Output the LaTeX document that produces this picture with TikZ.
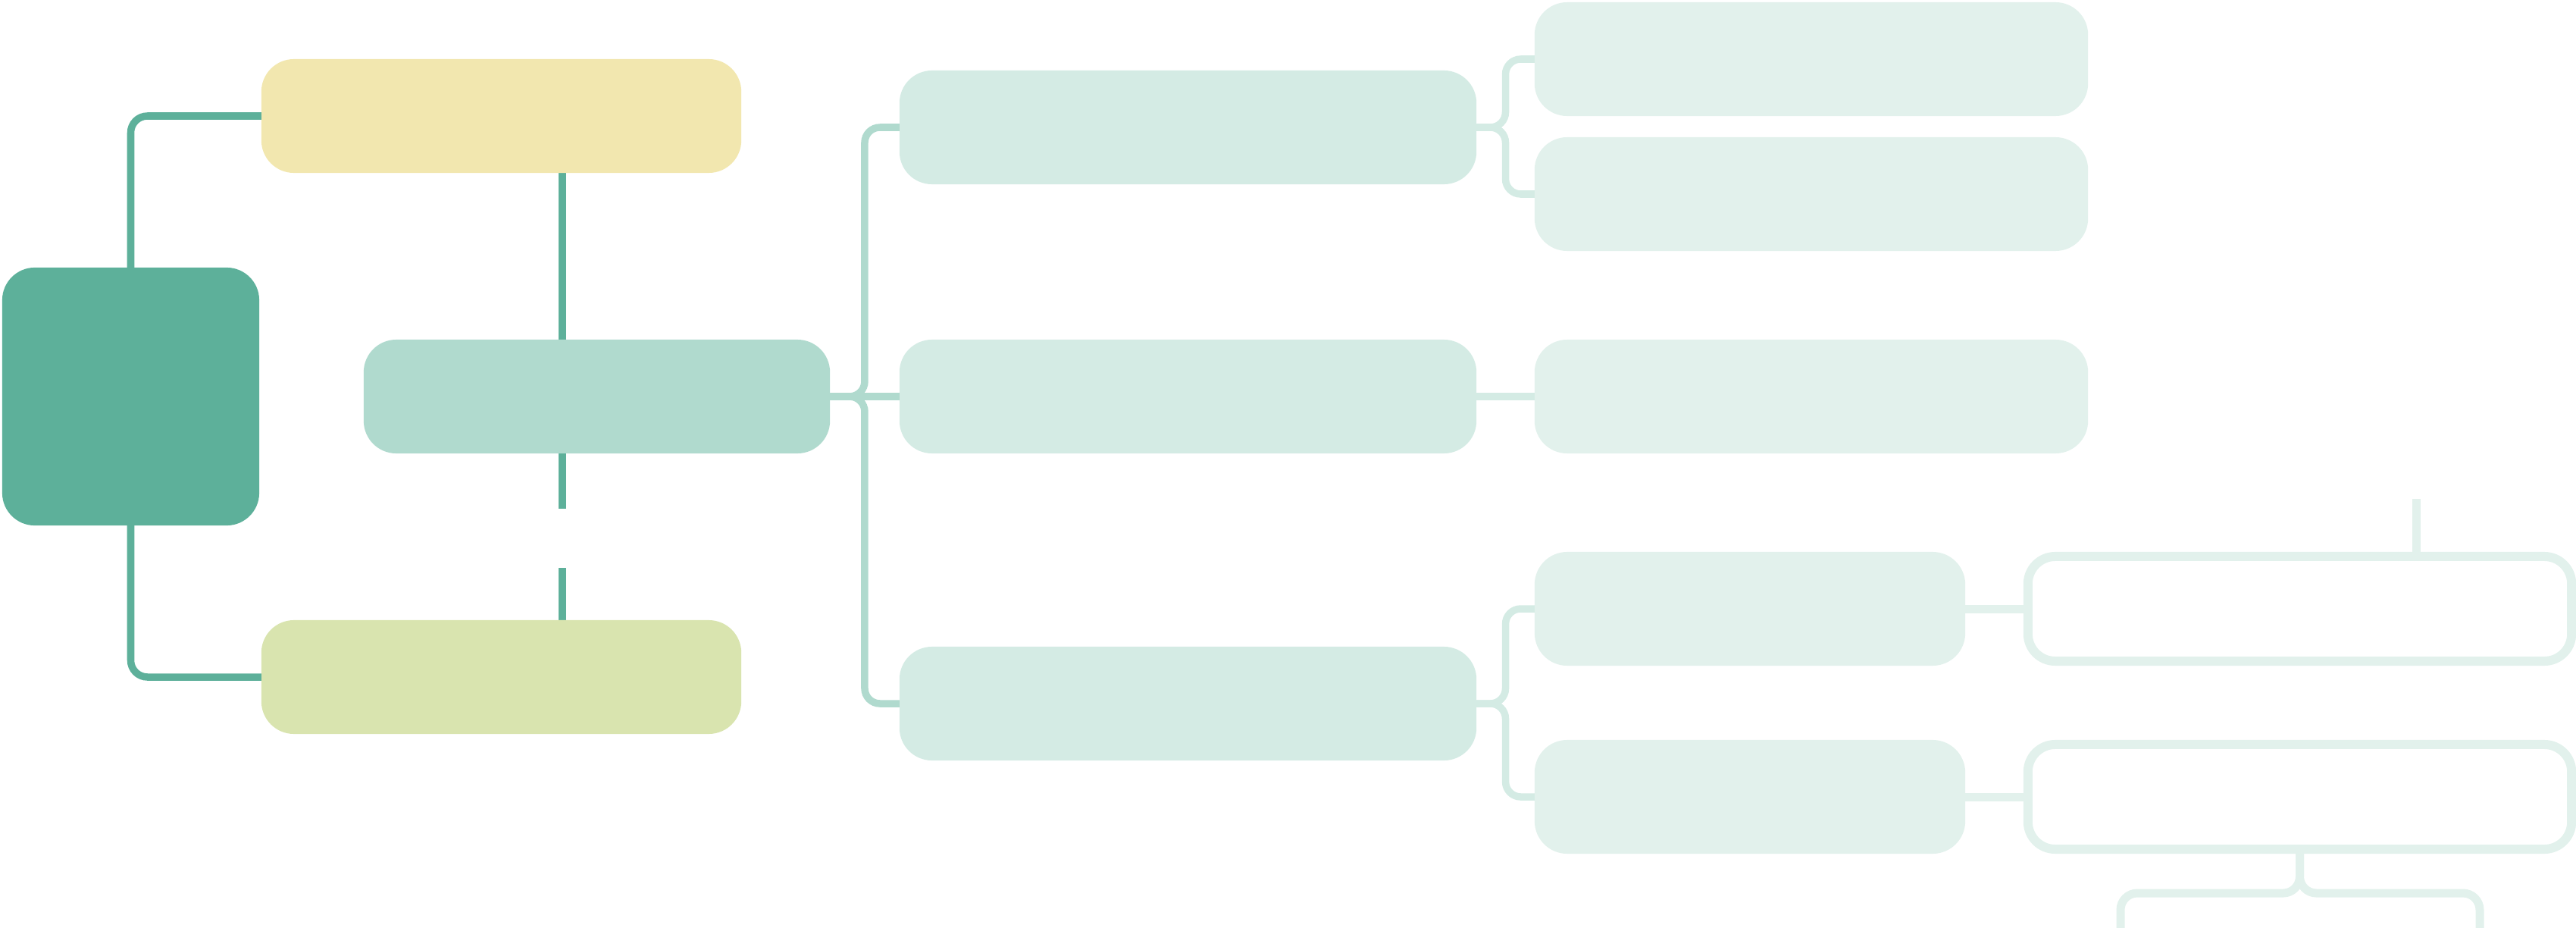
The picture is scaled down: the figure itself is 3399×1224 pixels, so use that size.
\documentclass[tikz,border=0pt]{standalone}
\usepackage{xcolor}
\definecolor{maproot}{HTML}{5DB09A}
\definecolor{mapsun}{HTML}{F2E7AF}
\definecolor{mapmint}{HTML}{B0DACE}
\definecolor{maplime}{HTML}{D9E4AF}
\definecolor{mapsea}{HTML}{D4EBE4}
\definecolor{mapfoam}{HTML}{E2F1EC}
\usetikzlibrary{calc,backgrounds}
\tikzset{
  mapbox/.style={rounded corners=0.43cm,inner sep=0pt,outer sep=0pt,minimum height=1.5cm},
  mapout/.style={draw=mapfoam,line width=0.12cm,rounded corners=0.36cm,inner sep=0pt,minimum width=7.17cm,minimum height=1.38cm},
  maplink/.style={line width=0.095cm,rounded corners=0.2cm},
  mapwire/.style={draw=mapfoam,line width=0.11cm,rounded corners=0.22cm},
}
\begin{document}
\begin{tikzpicture}[x=0.01cm,y=-0.01cm]
\useasboundingbox (0,0) rectangle (3399,1224);
\node[mapbox,fill=maproot,minimum width=3.39cm,minimum height=3.4cm] (root) at (172.5,523) {};
\node[mapbox,fill=mapsun,minimum width=6.33cm] (sun) at (661.5,153) {};
\node[mapbox,fill=mapmint,minimum width=6.15cm] (mint) at (787.5,523) {};
\node[mapbox,fill=maplime,minimum width=6.33cm] (lime) at (661.5,893) {};
\node[mapbox,fill=mapsea,minimum width=7.61cm] (sea1) at (1567.5,168) {};
\node[mapbox,fill=mapsea,minimum width=7.61cm] (sea2) at (1567.5,523) {};
\node[mapbox,fill=mapsea,minimum width=7.61cm] (sea3) at (1567.5,928) {};
\node[mapbox,fill=mapfoam,minimum width=7.3cm] (foam1) at (2390,78) {};
\node[mapbox,fill=mapfoam,minimum width=7.3cm] (foam2) at (2390,256) {};
\node[mapbox,fill=mapfoam,minimum width=7.3cm] (foam3) at (2390,523) {};
\node[mapbox,fill=mapfoam,minimum width=5.68cm] (foam4) at (2309,803) {};
\node[mapbox,fill=mapfoam,minimum width=5.68cm] (foam5) at (2309,1051) {};
\node[mapout] (out1) at (3034.5,803) {};
\node[mapout] (out2) at (3034.5,1051) {};
\coordinate (gapA) at (742,671);
\coordinate (gapB) at (742,749);
\coordinate (stub) at (3188,658);
\coordinate (legL) at (2798,1224);
\coordinate (legR) at (3272,1224);
\coordinate (j1) at ($(mint.east)!0.5!(sea2.west)$);
\coordinate (m2) at ($(sea1.east)!0.5!(foam1.west)$);
\coordinate (j2) at (m2 |- sea1.east);
\coordinate (m3) at ($(sea3.east)!0.5!(foam4.west)$);
\coordinate (j3) at (m3 |- sea3.east);
\begin{scope}[on background layer]
\draw[maplink,maproot] (sun.south -| gapA) -- (gapA);
\draw[maplink,maproot] (gapB) -- (lime.north -| gapB);
\end{scope}
\draw[maplink,maproot,rounded corners=0.22cm] (root.north) |- (sun.west);
\draw[maplink,maproot,rounded corners=0.22cm] (root.south) |- (lime.west);
\draw[maplink,mapmint] (sea1.west) -| (j1) -- (mint.east);
\draw[maplink,mapmint] (sea3.west) -| (j1) -- (mint.east);
\draw[maplink,mapmint] (mint.east) -- (sea2.west);
\draw[maplink,mapsea] (foam1.west) -| (j2) -- (sea1.east);
\draw[maplink,mapsea] (foam2.west) -| (j2) -- (sea1.east);
\draw[maplink,mapsea] (sea2.east) -- (foam3.west);
\draw[maplink,mapsea] (foam4.west) -| (j3) -- (sea3.east);
\draw[maplink,mapsea] (foam5.west) -| (j3) -- (sea3.east);
\draw[mapwire] (foam4.east) -- (out1.west);
\draw[mapwire] (foam5.east) -- (out2.west);
\draw[mapwire] (stub) -- (stub |- out1.north);
\draw[mapwire] (out2.south) -- ++(0,52) -| (legL);
\draw[mapwire] (out2.south) -- ++(0,52) -| (legR);
\end{tikzpicture}
\end{document}
